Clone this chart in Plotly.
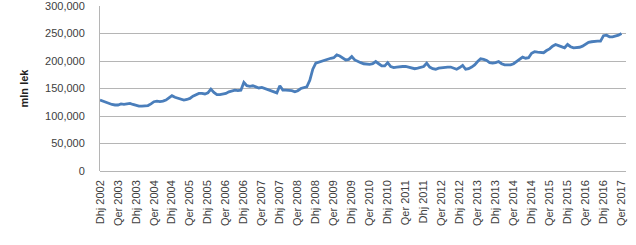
import plotly.graph_objects as go

# Monthly values (mln lek), Dec 2002 .. Jun 2017
values = [
    129, 127, 124, 122, 121, 120, 120, 122, 121, 122,
    123, 121, 119, 118, 118, 118, 119, 122, 126, 127,
    126, 127, 129, 133, 137, 134, 132, 130, 129, 130,
    132, 136, 139, 141, 141, 140, 142, 149, 143, 139,
    139, 140, 141, 144, 146, 147, 146, 147, 161, 155,
    154, 155, 153, 151, 152, 150, 149, 147, 145, 142,
    155, 147, 147, 147, 146, 144, 146, 150, 152, 153,
    165, 185, 196, 198, 199, 202, 204, 205, 206, 211,
    209, 205, 202, 203, 208, 202, 199, 197, 195, 194,
    194, 195, 199, 195, 191, 191, 197, 190, 188, 189,
    190, 190, 190, 189, 187, 186, 187, 188, 190, 196,
    189, 186, 185, 187, 188, 189, 189, 189, 187, 185,
    188, 192, 185, 186, 189, 193, 199, 204, 203, 201,
    197, 196, 197, 199, 195, 193, 193, 193, 195, 199,
    204, 207, 205, 206, 214, 217, 216, 216, 215, 219,
    222, 227, 230, 228, 226, 224, 230, 226, 224, 224,
    225, 227, 230, 234, 235, 236, 236, 236, 246, 247,
    244, 244, 245, 247, 250,
]
values = [v * 1000 for v in values]

tick_labels = ["Dhj 2002"]
for yr in range(2003, 2017):
    tick_labels += [f"Qer {yr}", f"Dhj {yr}"]
tick_labels.append("Qer 2017")

x_idx = list(range(len(values)))
tick_pos = [i * 6 for i in range(len(tick_labels))]

fig = go.Figure(go.Scatter(
    x=x_idx, y=values, mode="lines",
    line=dict(color="#4A7EBB", width=2.8),
))

font = "Liberation Sans"
fig.update_layout(
    width=636, height=245,
    margin=dict(l=100, r=10, t=0, b=74),
    paper_bgcolor="white", plot_bgcolor="white",
    showlegend=False,
    font=dict(family=font, color="#404040"),
)
fig.update_xaxes(
    range=[0, 175.5],
    tickmode="array", tickvals=tick_pos, ticktext=tick_labels,
    tickangle=-90, tickfont=dict(size=11, color="#404040"),
    showgrid=False, zeroline=False,
    showline=False, ticks="", ticklabelstandoff=6,
)
fig.update_yaxes(
    range=[0, 300000],
    tickvals=[0, 50000, 100000, 150000, 200000, 250000, 300000],
    tickformat=",d",
    tickfont=dict(size=11, color="#404040"),
    ticklabeloverflow="allow",
    showgrid=True, gridcolor="#B5B5B5", gridwidth=1,
    zeroline=True, zerolinecolor="#B5B5B5", zerolinewidth=1,
    showline=True, linecolor="#B5B5B5", linewidth=1,
    ticks="", ticklabelstandoff=12,
    title=dict(text="<b>mln lek</b>", font=dict(size=11, color="#202020"), standoff=14),
)
fig.write_html("out.html")
